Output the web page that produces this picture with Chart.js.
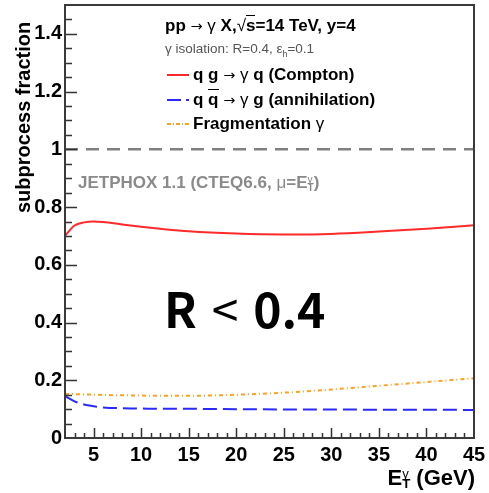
<!DOCTYPE html>
<html>
<head>
<meta charset="utf-8">
<script src="https://cdn.jsdelivr.net/npm/chart.js@4.4.1/dist/chart.umd.min.js"></script>
<style>
  html, body { margin: 0; padding: 0; background: #fff; }
  #wrap { position: relative; width: 489px; height: 493px; font-family: "Liberation Sans", Arial, sans-serif; }
  #wrap canvas { position: absolute; left: 0; top: 0; }
  .txt { position: absolute; white-space: nowrap; font-weight: bold; color: #000; line-height: 1; }
  .thin { font-weight: normal; }
  .arr { font-weight: normal; font-family: "DejaVu Sans", sans-serif; font-size: 0.85em; }
  .ss { display: inline-block; vertical-align: middle; line-height: 0.75; font-size: 0.6em; text-align: left; }
  .ss span { display: block; }
  .over { border-top: 1.5px solid currentColor; padding-top: 0; }
  .row { position: absolute; left: 167px; display: flex; align-items: center; }
  .row svg { margin-right: 4px; }
</style>
</head>
<body>
<div id="wrap">
  <canvas id="chart" width="489" height="493"></canvas>

  <div class="txt" style="left:165px; top:17px; font-size:17px;">pp <span class="arr">→</span> <span class="thin">γ</span> X,<span class="thin">√</span><span class="over">s</span>=14 TeV, y=4</div>
  <div class="txt thin" style="left:165px; top:42px; font-size:13.5px; color:#555;">γ isolation: R=0.4, ε<sub style="font-size:9px">h</sub>=0.1</div>

  <div class="row txt" style="top:66px; font-size:17px;">
    <svg width="22" height="4"><line x1="0" y1="2" x2="22" y2="2" stroke="#ff2a2a" stroke-width="2"/></svg>
    <span>q g <span class="arr">→</span> <span class="thin">γ</span> q (Compton)</span>
  </div>
  <div class="row txt" style="top:91px; font-size:17px;">
    <svg width="22" height="4"><line x1="0" y1="2" x2="22" y2="2" stroke="#2a2aff" stroke-width="2" stroke-dasharray="14,5"/></svg>
    <span>q <span class="over">q</span> <span class="arr">→</span> <span class="thin">γ</span> g (annihilation)</span>
  </div>
  <div class="row txt" style="top:115px; font-size:17px;">
    <svg width="22" height="4"><line x1="0" y1="2" x2="22" y2="2" stroke="#ffa020" stroke-width="2" stroke-dasharray="4,2,1,2"/></svg>
    <span>Fragmentation <span class="thin">γ</span></span>
  </div>

  <div class="txt" style="left:78px; top:174px; font-size:17px; color:#8a8a8a;">JETPHOX 1.1 (CTEQ6.6, <span class="thin">μ</span>=E<span class="ss"><span class="thin">γ</span><span>T</span></span>)</div>

  <div class="txt" style="left:164px; top:283px; font-size:48px; font-family:'Noto Sans CJK JP', sans-serif;">R <span class="thin" style="margin:0 4px;">&lt;</span> 0.4</div>

  <div class="txt" style="right:14px; top:467px; font-size:22px;">E<span class="ss"><span class="thin">γ</span><span>T</span></span> (GeV)</div>

  <div class="txt" style="left:13px; top:8px; font-size:20px; transform-origin:0 0; transform:translate(0,205px) rotate(-90deg);">subprocess fraction</div>
</div>

<script>
const ET = [2, 3, 4, 5, 6, 8, 10, 12, 15, 20, 25, 30, 35, 40, 45];
const COMPTON = [0.700, 0.736, 0.747, 0.750, 0.748, 0.740, 0.732, 0.725, 0.716, 0.708, 0.705, 0.707, 0.715, 0.725, 0.737];
const ANNIHILATION = [0.145, 0.127, 0.116, 0.110, 0.106, 0.103, 0.102, 0.101, 0.101, 0.100, 0.099, 0.099, 0.098, 0.098, 0.097];
const FRAGMENTATION = [0.153, 0.152, 0.151, 0.150, 0.149, 0.148, 0.147, 0.146, 0.146, 0.150, 0.157, 0.168, 0.181, 0.194, 0.207];
const UNITY_X = [2, 45];
const UNITY_Y = [1, 1];

const X_TICKS = [5, 10, 15, 20, 25, 30, 35, 40, 45];
const Y_TICKS = [0, 0.2, 0.4, 0.6, 0.8, 1, 1.2, 1.4];
const Y_TICK_LABELS = ["0", "0.2", "0.4", "0.6", "0.8", "1", "1.2", "1.4"];

const FONT = "'Liberation Sans', Arial, sans-serif";

function pts(xs, ys) {
    return xs.map((x, i) => ({ x, y: ys[i] }));
}

// ROOT style frame with ticks drawn inward
const framePlugin = {
    id: 'frame',
    afterDraw(chart) {
        const { ctx, chartArea: a, scales: { x, y } } = chart;
        ctx.save();
        ctx.strokeStyle = '#333';
        ctx.lineWidth = 1.5;
        ctx.beginPath();
        for (let v = 3; v < 45; v++) {
            const px = Math.round(x.getPixelForValue(v)) + 0.5;
            const len = v % 5 === 0 ? 10 : 5;
            ctx.moveTo(px, a.bottom);
            ctx.lineTo(px, a.bottom - len);
        }
        for (let i = 1; i < 30; i++) {
            const py = Math.round(y.getPixelForValue(i * 0.05)) + 0.5;
            const len = i % 4 === 0 ? 12 : 7;
            ctx.moveTo(a.left, py);
            ctx.lineTo(a.left + len, py);
        }
        ctx.stroke();
        ctx.strokeStyle = '#3a3a3a';
        ctx.lineWidth = 2;
        ctx.strokeRect(a.left, a.top, a.right - a.left, a.bottom - a.top);
        ctx.restore();
    }
};

new Chart(document.getElementById('chart'), {
    type: 'line',
    data: {
        datasets: [
            { label: 'Compton', data: pts(ET, COMPTON), borderColor: '#ff2a2a', borderWidth: 2, pointRadius: 0, cubicInterpolationMode: 'monotone' },
            { label: 'annihilation', data: pts(ET, ANNIHILATION), borderColor: '#2a2aff', borderWidth: 2, borderDash: [14, 6], pointRadius: 0, cubicInterpolationMode: 'monotone' },
            { label: 'Fragmentation', data: pts(ET, FRAGMENTATION), borderColor: '#ffa020', borderWidth: 2, borderDash: [4, 3, 1, 3], pointRadius: 0, cubicInterpolationMode: 'monotone' },
            { label: 'unity', data: pts(UNITY_X, UNITY_Y), borderColor: '#808080', borderWidth: 2.5, borderDash: [13, 8], pointRadius: 0 }
        ]
    },
    options: {
        responsive: false,
        animation: false,
        layout: { padding: { top: 5, right: 15, left: 0, bottom: 0 } },
        plugins: { legend: { display: false }, tooltip: { enabled: false } },
        scales: {
            x: {
                type: 'linear', min: 2, max: 45,
                grid: { display: false, drawTicks: false },
                border: { display: false },
                afterBuildTicks: s => { s.ticks = X_TICKS.map(v => ({ value: v })); },
                afterFit: s => { s.height = 55; s.paddingLeft = 0; s.paddingRight = 0; },
                ticks: { font: { family: FONT, size: 20, weight: 'bold' }, color: '#000', padding: 5, maxRotation: 0, autoSkip: false }
            },
            y: {
                type: 'linear', min: 0, max: 1.5,
                grid: { display: false, drawTicks: false },
                border: { display: false },
                afterBuildTicks: s => { s.ticks = Y_TICKS.map(v => ({ value: v })); },
                afterFit: s => { s.width = 65; s.paddingTop = 0; s.paddingBottom = 0; },
                ticks: {
                    font: { family: FONT, size: 20, weight: 'bold' }, color: '#000', padding: 3, autoSkip: false,
                    callback: (v, i) => Y_TICK_LABELS[i]
                }
            }
        }
    },
    plugins: [framePlugin]
});
</script>
</body>
</html>
